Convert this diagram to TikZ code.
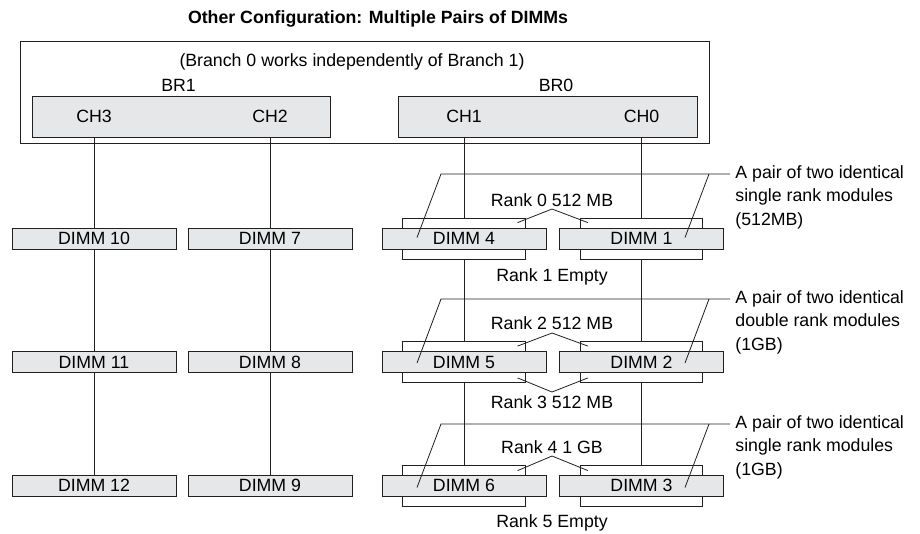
\documentclass[tikz,border=0pt]{standalone}
\usepackage{fontspec}
\setmainfont{Liberation Sans}
\usetikzlibrary{calc}

\definecolor{dimmgray}{HTML}{E6E7E8}
\definecolor{linegray}{HTML}{231F20}

\begin{document}
\begin{tikzpicture}[x=0.75pt, y=-0.75pt, line width=0.6pt, font=\fontsize{13.3}{17.6}\selectfont,
    dimm/.style={rectangle, draw=linegray, fill=dimmgray, minimum width=123pt, minimum height=15.75pt, inner sep=0pt},
    rankbox/.style={rectangle, draw=linegray, fill=white, minimum width=91.75pt, minimum height=30.75pt, inner sep=0pt},
    chanbox/.style={rectangle, draw=linegray, fill=dimmgray, minimum width=224pt, minimum height=30.75pt},
    note/.style={anchor=west, align=left, inner xsep=3.75pt, inner ysep=0pt},
    wire/.style={draw=linegray}]
            \useasboundingbox (0,0) rectangle (920,533);
            \node[font=\fontsize{13.3}{16}\selectfont\bfseries] (title) at (378,19) {Other Configuration: Multiple Pairs of DIMMs};
            \node[draw=linegray, minimum width=516.75pt, minimum height=76.5pt] (ctrl) at (364.5,92) {};
            \node (indep) at (352,62) {(Branch 0 works independently of Branch 1)};
            \node (br1lbl) at (178.5,85) {BR1};
            \node (br0lbl) at (556,85) {BR0};
            \node[chanbox] (br1) at (181.5,116.5) {};
            \node[chanbox] (br0) at (548,116.5) {};
            \node (ch3) at (94,116) {CH3};
            \node (ch2) at (270,116) {CH2};
            \node (ch1) at (464,116) {CH1};
            \node (ch0) at (641.5,116) {CH0};
            % left side, single DIMMs
            \node[dimm] (d10) at (94,238.5) {DIMM 10};
            \node[dimm] (d7) at (270,238.5) {DIMM 7};
            \node[dimm] (d11) at (94,362) {DIMM 11};
            \node[dimm] (d8) at (270,362) {DIMM 8};
            \node[dimm] (d12) at (94,485.5) {DIMM 12};
            \node[dimm] (d9) at (270,485.5) {DIMM 9};
            % right side, DIMM pairs with their ranks behind
            \node[rankbox] (r4) at (464,238.5) {};
            \node[rankbox] (r1) at (641.5,238.5) {};
            \node[rankbox] (r5) at (464,362) {};
            \node[rankbox] (r2) at (641.5,362) {};
            \node[rankbox] (r6) at (464,485.5) {};
            \node[rankbox] (r3) at (641.5,485.5) {};
            \node[dimm] (d4) at (464,238.5) {DIMM 4};
            \node[dimm] (d1) at (641.5,238.5) {DIMM 1};
            \node[dimm] (d5) at (464,362) {DIMM 5};
            \node[dimm] (d2) at (641.5,362) {DIMM 2};
            \node[dimm] (d6) at (464,485.5) {DIMM 6};
            \node[dimm] (d3) at (641.5,485.5) {DIMM 3};
            \draw[wire] (ch3 |- br1.south) -- (d10);
            \draw[wire] (d10) -- (d11);
            \draw[wire] (d11) -- (d12);
            \draw[wire] (ch2 |- br1.south) -- (d7);
            \draw[wire] (d7) -- (d8);
            \draw[wire] (d8) -- (d9);
            \draw[wire] (ch1 |- br0.south) -- (r4);
            \draw[wire] (r4) -- (r5);
            \draw[wire] (r5) -- (r6);
            \draw[wire] (ch0 |- br0.south) -- (r1);
            \draw[wire] (r1) -- (r2);
            \draw[wire] (r2) -- (r3);
            % rank labels
            \node (rk0) at (552,200) {Rank 0 512 MB};
            \node (rk1) at (552,277) {Rank 1 Empty};
            \node (rk2) at (552,323) {Rank 2 512 MB};
            \node (rk3) at (552,402) {Rank 3 512 MB};
            \node (rk4) at (552,447) {Rank 4 1 GB};
            \node (rk5) at (552,523) {Rank 5 Empty};
            \coordinate (c0) at (552,209);
            \coordinate (c2) at (552,333);
            \coordinate (c3) at (552,392);
            \coordinate (c4) at (552,456);
            \draw[wire] ($(r4.north east)+(-8,5)$) -- (c0) -- ($(r1.north west)+(8,5)$);
            \draw[wire] ($(r5.north east)+(-8,5)$) -- (c2) -- ($(r2.north west)+(8,5)$);
            \draw[wire] ($(r5.south east)+(-8,-5)$) -- (c3) -- ($(r2.south west)+(8,-5)$);
            \draw[wire] ($(r6.north east)+(-8,6)$) -- (c4) -- ($(r3.north west)+(8,6)$);
            % notes on the pairs
            \node[note] (n1) at (730,197) {A pair of two identical\\single rank modules\\(512MB)};
            \node[note] (n2) at (730,322) {A pair of two identical\\double rank modules\\(1GB)};
            \node[note] (n3) at (730,447) {A pair of two identical\\single rank modules\\(1GB)};
            \coordinate (k1) at (441,174);
            \coordinate (k2) at (441,299);
            \coordinate (k3) at (441,424);
            \coordinate (j1) at (709,174);
            \coordinate (j2) at (709,299);
            \coordinate (j3) at (709,424);
            \draw[wire] (n1.west |- k1) -- (k1) -- ($(d4.center)+(-47,-1)$);
            \draw[wire] (n2.west |- k2) -- (k2) -- ($(d5.center)+(-47,1)$);
            \draw[wire] (n3.west |- k3) -- (k3) -- ($(d6.center)+(-47,2)$);
            \draw[wire] (j1) -- ($(d1.center)+(43.5,-1)$);
            \draw[wire] (j2) -- ($(d2.center)+(43.5,1)$);
            \draw[wire] (j3) -- ($(d3.center)+(43.5,2)$);
        \end{tikzpicture}
\end{document}
